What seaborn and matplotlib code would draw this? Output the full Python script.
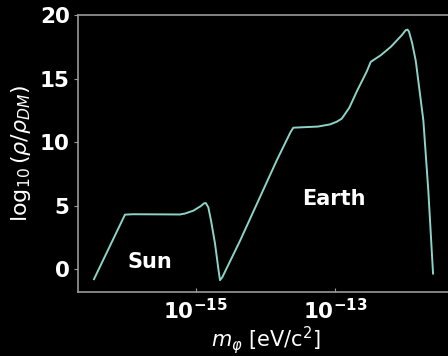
import numpy as np
import pandas as pd
import matplotlib
matplotlib.use("Agg")
import matplotlib.pyplot as plt
import matplotlib.ticker as mticker
import seaborn as sns

# log10 of scalar mass [eV/c^2] and log10 of density enhancement
log_mass = [-16.457, -16.013, -15.90, -15.50, -15.225, -15.15, -15.034, -14.93, -14.88,
            -14.855, -14.819, -14.78, -14.723, -14.68, -14.652, -14.62, -14.365, -13.840,
            -13.64, -13.602, -13.45, -13.25, -13.076, -12.98, -12.908, -12.80, -12.685,
            -12.55, -12.493, -12.350, -12.206, -12.05, -11.991, -11.965, -11.944, -11.90,
            -11.848, -11.739, -11.668, -11.600]
log_density = [-0.79, 4.29, 4.32, 4.31, 4.30, 4.38, 4.60, 4.95, 5.18,
               5.20, 4.86, 3.80, 2.00, 0.20, -0.87, -0.65, 2.23, 8.55,
               10.80, 11.13, 11.17, 11.22, 11.39, 11.60, 11.84, 12.70, 14.07,
               15.55, 16.31, 16.83, 17.49, 18.40, 18.81, 18.85, 18.68, 17.80,
               16.40, 11.70, 6.18, -0.35]

labels = {"Sun": (-15.65, 0.58), "Earth": (-13.02, 5.55)}
xticks = [1e-15, 1e-13]
yticks = [0, 5, 10, 15, 20]

plt.style.use("dark_background")
plt.rcParams["font.family"] = ["DejaVu Sans"]

df = pd.DataFrame({"m": 10.0 ** np.array(log_mass), "rho": log_density})

fig = plt.figure(figsize=(4.48, 3.56), dpi=100)
ax = fig.add_axes([78 / 448, 64 / 356, (454 - 78) / 448, 277 / 356])

sns.lineplot(data=df, x="m", y="rho", ax=ax, color="#8dd3c7", linewidth=1.4)

ax.set_xscale("log")
ax.set_xlim(10 ** -16.686, 10 ** -11.30)
ax.set_ylim(-1.8, 20)
ax.xaxis.set_major_locator(mticker.FixedLocator(xticks))
ax.xaxis.set_minor_locator(mticker.NullLocator())
ax.set_yticks(yticks)

for s in ["top", "left", "bottom"]:
    ax.spines[s].set_color("#999999")
    ax.spines[s].set_linewidth(1.2)
ax.spines["right"].set_visible(False)

ax.tick_params(axis="y", direction="out", length=3, color="#999999", labelsize=15.5, pad=3)
ax.tick_params(axis="x", direction="in", length=3, color="#999999", labelsize=15.5, pad=4)
for lab in ax.get_xticklabels() + ax.get_yticklabels():
    lab.set_fontweight("bold")
ax.xaxis.set_major_formatter(mticker.FuncFormatter(
    lambda v, p: r"$\mathbf{10^{%d}}$" % round(np.log10(v))))

ax.set_xlabel(r"$m_{\varphi}$ [eV/c$^2$]", fontsize=15, labelpad=1)
ax.set_ylabel(r"log$_{10}\,(\rho/\rho_{DM})$", fontsize=16, labelpad=5)

for name, (lx, ly) in labels.items():
    ax.text(10 ** lx, ly, name, fontsize=15, fontweight="bold",
            ha="center", va="center", color="white")

fig.savefig("out.png", dpi=100, facecolor="black")
